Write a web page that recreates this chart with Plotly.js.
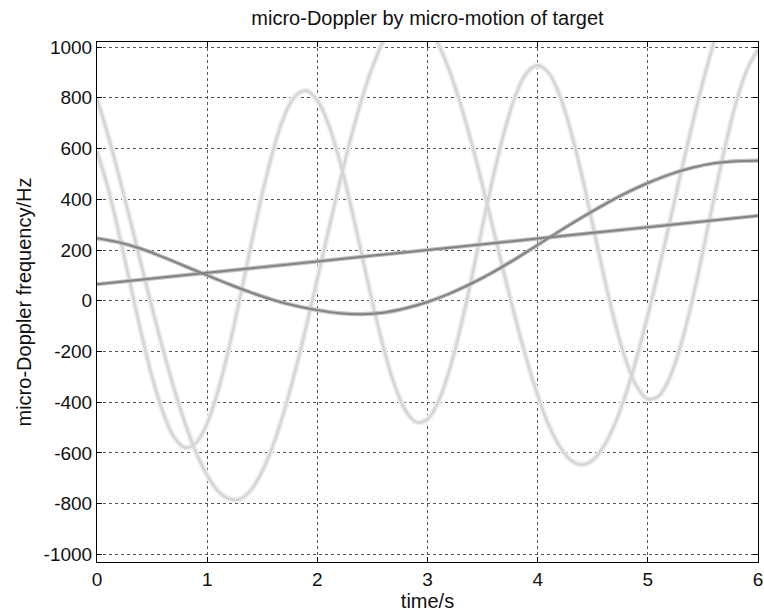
<!DOCTYPE html>
<html>
<head>
<meta charset="utf-8">
<script src="https://cdn.plot.ly/plotly-3.0.1.min.js"></script>
<style>html,body{margin:0;padding:0;background:#fff;}#chart{width:764px;height:615px;}</style>
</head>
<body>
<div id="chart"></div>
<script>
// Light micro-Doppler sinusoid (starts near 590 Hz)
const timeQ = [0,0.1,0.2,0.3,0.4,0.5,0.6,0.7,0.8,0.9,1.0,1.1,1.2,1.3,1.4,1.5,1.6,1.7,1.8,1.9,2.0,2.1,2.2,2.3,2.4,2.5,2.6,2.7,2.8,2.9,3.0,3.1,3.2,3.3,3.4,3.5,3.6,3.7,3.8,3.9,4.0,4.1,4.2,4.3,4.4,4.5,4.6,4.7,4.8,4.9,5.0,5.1,5.2,5.3,5.4,5.5,5.6,5.7,5.8,5.9,6.0];
const freqQ = [590,444,265,70,-124,-300,-441,-538,-579,-560,-483,-353,-182,16,223,422,594,728,807,828,790,697,557,382,189,-6,-184,-331,-433,-479,-467,-396,-272,-106,89,296,495,671,810,898,928,898,809,671,496,299,100,-83,-234,-338,-387,-375,-301,-174,-4,195,404,604,779,911,990];

// Light micro-Doppler sinusoid (starts near 800 Hz)
const timeP = [0,0.1,0.2,0.3,0.4,0.5,0.6,0.7,0.8,0.9,1.0,1.1,1.2,1.3,1.4,1.5,1.6,1.7,1.8,1.9,2.0,2.1,2.2,2.3,2.4,2.5,2.6,2.7,2.8,2.9,3.0,3.1,3.2,3.3,3.4,3.5,3.6,3.7,3.8,3.9,4.0,4.1,4.2,4.3,4.4,4.5,4.6,4.7,4.8,4.9,5.0,5.1,5.2,5.3,5.4,5.5,5.6,5.7,5.8];
const freqP = [797,652,491,321,146,-27,-193,-347,-484,-599,-688,-751,-781,-782,-745,-672,-567,-433,-275,-100,86,274,460,635,790,921,1024,1093,1126,1123,1084,1010,906,774,622,454,277,99,-73,-232,-373,-490,-575,-628,-646,-628,-574,-486,-368,-223,-57,124,312,504,689,863,1019,1152,1254];

// Dark slowly varying curve
const timeS = [0,0.2,0.4,0.6,0.8,1.0,1.2,1.4,1.6,1.8,2.0,2.2,2.4,2.6,2.8,3.0,3.2,3.4,3.6,3.8,4.0,4.2,4.4,4.6,4.8,5.0,5.2,5.4,5.6,5.8,6.0];
const freqS = [246,230,205,172,136,100,65,32,3,-20,-37,-49,-53,-47,-30,-5,28,68,114,165,220,275,328,378,424,464,498,524,542,550,552];

// Dark nearly linear curve
const timeL = [0,1,2,3,4,5,6];
const freqL = [65,110,155,200,245,290,335];

const xTicks = [0,1,2,3,4,5,6];
const yTicks = [-1000,-800,-600,-400,-200,0,200,400,600,800,1000];

const FONT = 'Liberation Sans, Arial, Helvetica, sans-serif';

function lineTrace(x, y, color, width) {
  return {x: x, y: y, type: 'scatter', mode: 'lines',
    line: {color: color, width: width, shape: 'spline', smoothing: 1},
    hoverinfo: 'skip', showlegend: false};
}

const traces = [
  lineTrace(timeQ, freqQ, '#f0f0f0', 6),
  lineTrace(timeP, freqP, '#f0f0f0', 6),
  lineTrace(timeQ, freqQ, '#d6d6d6', 2.8),
  lineTrace(timeP, freqP, '#d6d6d6', 2.8),
  lineTrace(timeS, freqS, '#c0c0c0', 4.2),
  lineTrace(timeL, freqL, '#c0c0c0', 4.2),
  lineTrace(timeS, freqS, '#838383', 2),
  lineTrace(timeL, freqL, '#838383', 2)
];

const axisCommon = {
  showline: true, linecolor: '#000', linewidth: 1, mirror: 'ticks',
  ticks: 'inside', ticklen: 5, tickcolor: '#000', tickwidth: 1,
  showgrid: true, gridcolor: '#555', gridwidth: 1, griddash: '3px,3px',
  zeroline: false, tickfont: {family: FONT, size: 19, color: '#111'}
};

const layout = {
  width: 764, height: 615,
  margin: {l: 97, r: 6, t: 42, b: 53},
  paper_bgcolor: '#fff', plot_bgcolor: '#fff',
  font: {family: FONT, color: '#111'},
  title: {text: 'micro-Doppler by micro-motion of target', font: {family: FONT, size: 20, color: '#111'},
    xref: 'paper', x: 0.5, xanchor: 'center', yref: 'container', y: 0.971, yanchor: 'middle'},
  xaxis: Object.assign({}, axisCommon, {range: [0, 6], tickvals: xTicks, ticktext: xTicks.map(String),
    title: {text: 'time/s', font: {family: FONT, size: 20, color: '#111'}, standoff: 4}}),
  yaxis: Object.assign({}, axisCommon, {range: [-1030, 1020], tickvals: yTicks, ticktext: yTicks.map(String),
    title: {text: 'micro-Doppler frequency/Hz', font: {family: FONT, size: 20, color: '#111'}, standoff: 6}})
};

Plotly.newPlot('chart', traces, layout, {staticPlot: true, displayModeBar: false});
</script>
</body>
</html>
